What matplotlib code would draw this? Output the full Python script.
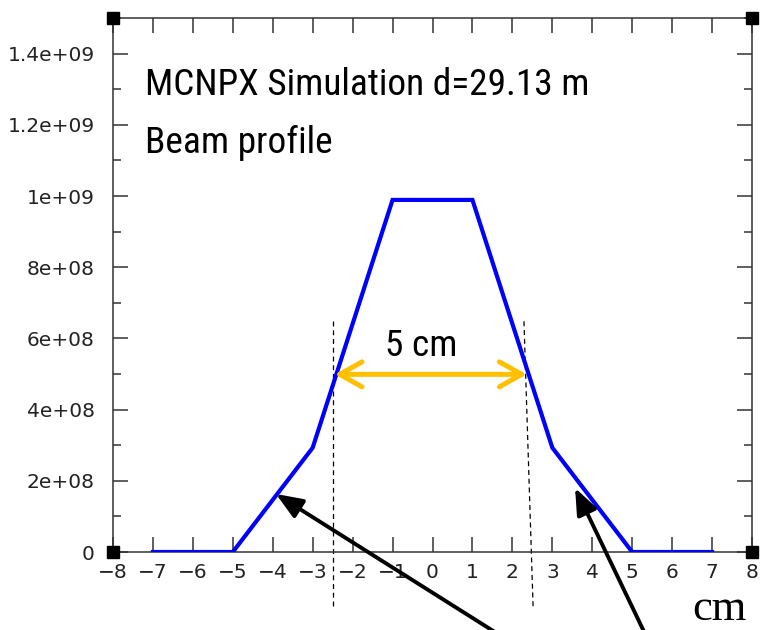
import matplotlib
matplotlib.use("Agg")
import matplotlib.pyplot as plt
from matplotlib import font_manager as fm
from matplotlib.ticker import MultipleLocator, FixedLocator

# ---- data ----
x_cm = [-7, -5, -3, -1, 1, 3, 5, 7]
flux = [0.0, 0.0, 2.93e8, 9.89e8, 9.89e8, 2.93e8, 0.0, 0.0]
x_ticks = list(range(-8, 9))
y_ticks = [0, 2e8, 4e8, 6e8, 8e8, 1e9, 1.2e9, 1.4e9]
y_ticklabels = ["0", "2e+08", "4e+08", "6e+08", "8e+08", "1e+09", "1.2e+09", "1.4e+09"]
title_lines = ["MCNPX Simulation d=29.13 m", "Beam profile"]
width_label = "5 cm"
unit_label = "cm"
fwhm_left = [(-2.49, 6.48e8), (-2.49, -1.58e8)]
fwhm_right = [(2.29, 6.48e8), (2.52, -1.58e8)]
fwhm_arrow = [(-2.45, 4.99e8), (2.36, 4.99e8)]
pointer1 = [(-3.92, 1.63e8), (1.89, -2.48e8)]
pointer2 = [(3.57, 1.80e8), (5.40, -2.48e8)]


def pick(names):
    for n in names:
        try:
            fm.findfont(fm.FontProperties(family=n), fallback_to_default=False)
            return n
        except Exception:
            pass
    return "DejaVu Sans"


narrow = pick(["Liberation Sans Narrow", "Roboto Condensed", "Open Sans Condensed", "DejaVu Sans Condensed", "Liberation Sans"])
serif = pick(["Liberation Serif", "DejaVu Serif"])

fig = plt.figure(figsize=(7.63, 6.3), dpi=100)
ax = fig.add_axes([113 / 763, 78 / 630, 639 / 763, 534 / 630])
ax.set_xlim(-8, 8)
ax.set_ylim(0, 1.5e9)

axis_col = "#333333"
for s in ax.spines.values():
    s.set_color(axis_col)
    s.set_linewidth(1.1)

ax.xaxis.set_major_locator(FixedLocator(x_ticks))
ax.set_xticklabels([f"{t:d}".replace("-", "\u2212") for t in x_ticks])
ax.yaxis.set_major_locator(FixedLocator(y_ticks))
ax.set_yticklabels(y_ticklabels)
ax.yaxis.set_minor_locator(MultipleLocator(1e8))
ax.tick_params(axis="both", which="major", direction="in", length=11, width=1.1,
               color=axis_col, top=True, right=True, labelsize=14.5, labelcolor="#222222")
ax.tick_params(axis="y", which="minor", direction="in", length=5.5, width=1.1,
               color=axis_col, left=True, right=True)
ax.tick_params(axis="x", which="major", pad=8)
ax.tick_params(axis="y", which="major", pad=13)
ax.tick_params(axis="x", which="minor", bottom=False, top=False)

# corner squares
ax.plot([-8, 8, -8, 8], [0, 0, 1.5e9, 1.5e9], ls="none", marker="s", ms=8,
        color="black", clip_on=False, zorder=5)

# profile
ax.plot(x_cm, flux, color="#0000FF", lw=3.0, solid_joinstyle="miter", zorder=3)

# dashed FWHM markers
for seg in (fwhm_left, fwhm_right):
    ax.plot([seg[0][0], seg[1][0]], [seg[0][1], seg[1][1]], color="black", lw=0.9,
            ls=(0, (4, 3)), clip_on=False, zorder=2)

# orange double arrow
ax.annotate("", xy=fwhm_arrow[1], xytext=fwhm_arrow[0],
            arrowprops=dict(arrowstyle="<->,head_length=0.8,head_width=0.45",
                            color="#FFC000", lw=3.6, mutation_scale=20,
                            capstyle="round", joinstyle="round",
                            shrinkA=0, shrinkB=0), zorder=4)

# black pointer arrows
for p in (pointer1, pointer2):
    ax.annotate("", xy=p[0], xytext=p[1], annotation_clip=False,
                arrowprops=dict(arrowstyle="-|>,head_length=0.8,head_width=0.32",
                                color="black", lw=2.8, mutation_scale=20,
                                shrinkA=0, shrinkB=0), zorder=6)

# texts
fig.canvas.draw()
renderer = fig.canvas.get_renderer()

t1 = ax.text(0.05, 0.856, title_lines[0], transform=ax.transAxes, family=narrow,
             fontsize=30, va="baseline", ha="left", color="black")
bb = t1.get_window_extent(renderer)
fs = 30 * 445 / bb.width
t1.set_fontsize(fs)
ax.text(0.05, 0.747, title_lines[1], transform=ax.transAxes, family=narrow,
        fontsize=fs, va="baseline", ha="left", color="black")
fig.text(421 / 763, (630 - 356) / 630, width_label, family=narrow, fontsize=fs,
         va="baseline", ha="center", color="black")

fig.text(692 / 763, 1 / 630, unit_label, family=serif, fontsize=32,
         va="bottom", ha="left", color="black")

fig.savefig("out.png", dpi=100)
